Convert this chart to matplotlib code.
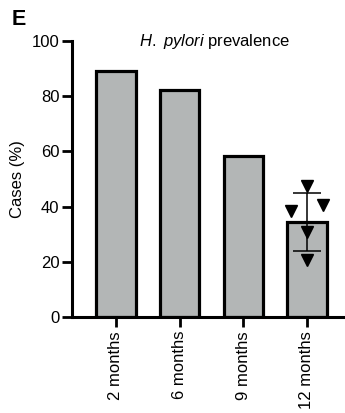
import matplotlib
matplotlib.use('Agg')
import matplotlib.pyplot as plt

plt.rcParams['font.family'] = ['Liberation Sans', 'DejaVu Sans']
plt.rcParams['mathtext.fontset'] = 'custom'
plt.rcParams['mathtext.rm'] = 'Liberation Sans'
plt.rcParams['mathtext.it'] = 'Liberation Sans:italic'

groups = ['2 months', '6 months', '9 months', '12 months']
prevalence = [89, 82.2, 58.5, 34.5]
prevalence_sd = [0, 0, 0, 10.4]
# individual points for 12 months
points_12 = [47.6, 38.5, 40.6, 30.9, 20.6]
points_12_offset = [0, -0.25, 0.25, 0, 0]

fig = plt.figure(figsize=(3.45, 4.13), dpi=100)
ax = fig.add_axes([0.209, 0.2324, 0.791, 0.6683])

x = list(range(len(groups)))
ax.bar(x, prevalence, width=0.62, color='#b3b6b6', edgecolor='black', linewidth=2.3, zorder=2)

ax.errorbar(x[3], prevalence[3], yerr=prevalence_sd[3], fmt='none', ecolor='black',
            elinewidth=1.1, capsize=10, capthick=1.1, zorder=4)
ax.plot([x[3] + o for o in points_12_offset], points_12, 'v', color='black',
        markersize=8.5, zorder=5)

ax.set_xlim(-0.69, 3.6)
ax.set_ylim(0, 100)
ax.set_yticks([0, 20, 40, 60, 80, 100])
ax.set_xticks(x)
ax.set_xticklabels(groups, rotation=90, fontsize=12)
ax.tick_params(axis='y', labelsize=12, width=2, length=7, pad=2)
ax.tick_params(axis='x', width=2, length=7, pad=3)

for side in ['top', 'right']:
    ax.spines[side].set_visible(False)
for side in ['left', 'bottom']:
    ax.spines[side].set_linewidth(2.2)

ax.set_ylabel('Cases (%)', fontsize=12, labelpad=5)
ax.text(0.52, 1.0, r'$\it{H.\ pylori}$ prevalence', transform=ax.transAxes,
        ha='center', va='center', fontsize=12)
fig.text(0.035, 0.953, 'E', fontsize=15.5, fontweight='bold', ha='left', va='center')

fig.savefig('out.png', dpi=100)
